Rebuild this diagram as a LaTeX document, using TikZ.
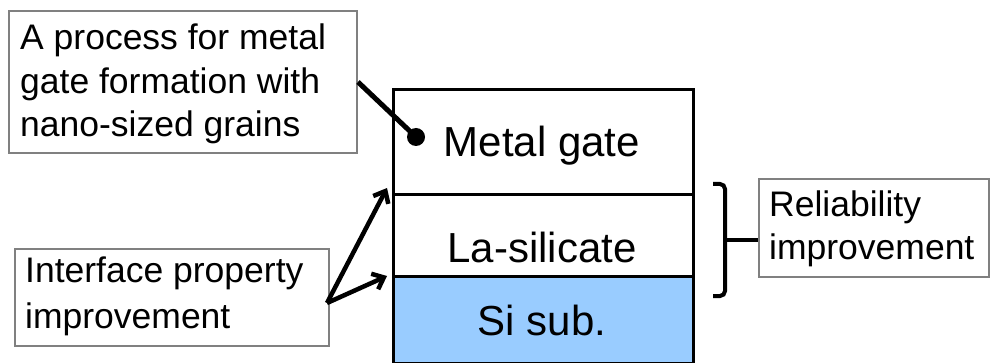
\documentclass[tikz,border=0pt]{standalone}
\usepackage{fontspec}
\setmainfont{Liberation Sans}
\usetikzlibrary{arrows.meta}
\definecolor{boxgray}{RGB}{128,128,128}
\definecolor{sifill}{RGB}{153,204,255}
\tikzset{
  gbox/.style={draw=boxgray, line width=2pt, inner sep=0pt, anchor=north west},
  layer/.style={draw=black, line width=3pt, inner sep=0pt, anchor=north west, minimum width=300pt},
  btext/.style={inner sep=0pt, anchor=base west, font=\fontsize{35.5}{43.5}\selectfont},
  ltext/.style={inner sep=0pt, anchor=base, font=\fontsize{42}{50}\selectfont},
  conn/.style={line width=5pt},
  arr/.style={line width=4.5pt, -{Straight Barb[length=10pt,width=17pt]}},
  brk/.style={line width=4pt, rounded corners=5pt}
}
\begin{document}
\begin{tikzpicture}[x=1pt,y=-1pt]
\useasboundingbox (0,0) rectangle (990,363);
% layers
\node[layer, minimum height=105pt] (mg) at (392,88) {};
\node[layer, minimum height=82pt] (la) at (392,193) {};
\node[layer, minimum height=87pt, fill=sifill] (si) at (392,275) {};
\node[ltext] (mgt) at (542,157) {Metal gate};
\node[ltext] (lat) at (542,262) {La-silicate};
\node[ltext] (sit) at (542,335) {Si sub.};
% box 1
\node[gbox, minimum width=348pt, minimum height=142pt] (p) at (8,10) {};
\node[btext] (pt) at (20,50) {\begin{tabular}[t]{@{}l@{}}A process for metal\\gate formation with\\nano-sized grains\end{tabular}};
\node[circle, fill=black, inner sep=0pt, minimum size=18pt] (dot) at (416,137) {};
\draw[conn] (p.east) -- (dot.center);
% box 2
\node[gbox, minimum width=314pt, minimum height=97pt] (ip) at (14,248) {};
\node[btext, font=\fontsize{35.5}{45.5}\selectfont] (ipt) at (25,283) {\begin{tabular}[t]{@{}l@{}}Interface property\\improvement\end{tabular}};
\coordinate (ipa) at (327,303);
\coordinate (t1) at (387,188);
\coordinate (t2) at (387,276);
\draw[arr] (ipa) -- (t1);
\draw[arr] (ipa) -- (t2);
% reliability box
\node[gbox, minimum width=230pt, minimum height=98pt] (rb) at (758,178) {};
\node[btext, font=\fontsize{35.5}{43}\selectfont] (rbt) at (769,217) {\begin{tabular}[t]{@{}l@{}}Reliability\\improvement\end{tabular}};
\coordinate (bt) at (713,184);
\coordinate (bb) at (713,296);
\coordinate (bm) at (725,240);
\draw[brk] (bt) -- (725,184) -- (725,296) -- (bb);
\draw[line width=4pt] (bm) -- (rb.west |- bm);
\end{tikzpicture}
\end{document}
